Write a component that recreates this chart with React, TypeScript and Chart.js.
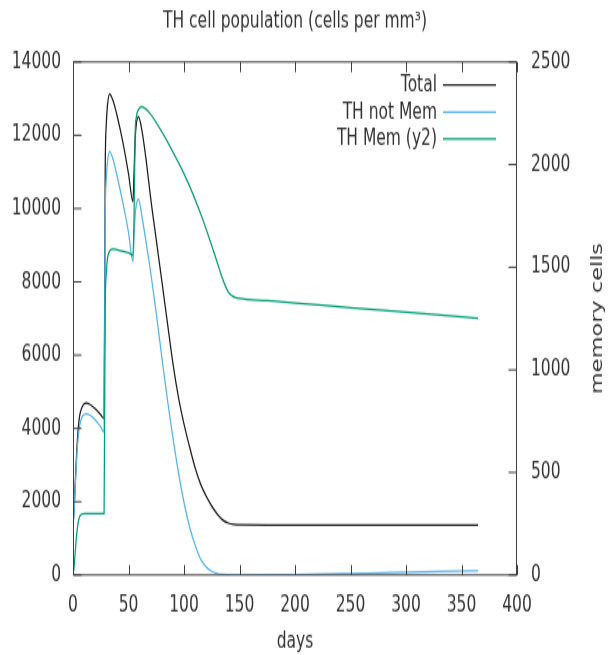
import React, { useEffect, useRef } from 'react';
import { Chart, registerables } from 'chart.js';

Chart.register(...registerables);

// ---------- data ----------
const days = [0, 1, 2, 3, 4, 5, 6, 8, 10, 12, 15, 20, 25, 27, 28,
  29, 30, 31, 33, 36, 40, 45, 50,
  54, 55, 56, 57, 59, 62, 66, 70,
  75, 80, 85, 90, 95, 100, 105, 110,
  115, 120, 125, 130, 135, 140, 145, 150,
  175, 200, 250, 300, 365];

const totalCells = [1340, 1800, 2500, 3150, 3700, 4100, 4350, 4570, 4670, 4690, 4660, 4540, 4370, 4290, 4270,
  11000, 12300, 12800, 13130, 12950, 12500, 11800, 10950,
  10190, 11000, 11900, 12300, 12500, 12150, 11300, 10280,
  9150, 8030, 6900, 5780, 4850, 4120, 3500, 2930,
  2480, 2150, 1880, 1665, 1500, 1415, 1380, 1368,
  1365, 1365, 1365, 1365, 1365];

const notMemCells = [1340, 1750, 2400, 3000, 3500, 3850, 4080, 4300, 4380, 4400, 4370, 4230, 4040, 3930, 3910,
  9700, 10800, 11250, 11550, 11350, 10850, 10150, 9350,
  8550, 9200, 9800, 10100, 10260, 9800, 9050, 8250,
  7150, 5950, 4800, 3750, 2800, 1980, 1320, 820,
  430, 220, 100, 40, 12, 3, 0, 0,
  2, 10, 40, 75, 115];

const memCells = [0, 40, 110, 180, 230, 265, 285, 297, 300, 300, 300, 300, 300, 300, 300,
  1300, 1470, 1540, 1580, 1589, 1585, 1578, 1570,
  1559, 1750, 2150, 2230, 2268, 2282, 2270, 2245,
  2205, 2160, 2112, 2062, 2010, 1955, 1895, 1830,
  1760, 1685, 1605, 1522, 1440, 1378, 1355, 1348,
  1337, 1326, 1303, 1281, 1252];

const seriesLabels = ['Total', 'TH not Mem', 'TH Mem (y2)'];
const seriesColors = ['#1c1c1c', '#56b4e9', '#009e73'];

const xTicks = { min: 0, max: 400, step: 50 };
const yTicks = { min: 0, max: 14000, step: 2000 };
const y2Ticks = { min: 0, max: 2500, step: 500 };

const chartTitle = 'TH cell population (cells per mm\u00b3)';
const xTitle = 'days';
const y2Title = 'memory cells';

// ---------- layout ----------
const W = 609;
const H = 655;
const LH = 452; // logical canvas height, stretched to H by CSS
const SY = H / LH;
const TOP = 62 / SY;
const BOTTOM = 575 / SY;
const FONT = 'DejaVu Sans';
const FS = 15.5;
const TXT = '#333333';
const AXIS = '#404040';

const decor = {
  id: 'decor',
  afterDraw(chart: any) {
    const { ctx, chartArea: a, scales } = chart;
    ctx.save();
    ctx.strokeStyle = AXIS;
    ctx.lineWidth = 1;
    const line = (x1: number, y1: number, x2: number, y2: number) => {
      ctx.beginPath();
      ctx.moveTo(x1, y1);
      ctx.lineTo(x2, y2);
      ctx.stroke();
    };
    const L = Math.round(a.left) + 0.5;
    const R = Math.round(a.right) - 0.5;
    const T = a.top;
    const B = a.bottom;
    ctx.strokeRect(L, T, R - L, B - T);
    const xs = scales.x;
    xs.ticks.forEach((t: any) => {
      const px = Math.round(xs.getPixelForValue(t.value)) + 0.5;
      line(px, B, px, B - 7);
      line(px, T, px, T + 7);
    });
    const ys = scales.y;
    ys.ticks.forEach((t: any) => {
      const py = ys.getPixelForValue(t.value);
      line(L, py, L + 8, py);
    });
    const y2s = scales.y2;
    y2s.ticks.forEach((t: any) => {
      const py = y2s.getPixelForValue(t.value);
      line(R, py, R - 8, py);
    });

    // legend (key) in the top right corner
    ctx.font = `${FS}px "${FONT}"`;
    ctx.textBaseline = 'middle';
    ctx.textAlign = 'right';
    chart.data.datasets.forEach((ds: any, i: number) => {
      const y = 59.2 + i * 18.6;
      ctx.fillStyle = TXT;
      ctx.fillText(ds.label, 437, y);
      ctx.strokeStyle = ds.borderColor;
      ctx.lineWidth = 1.3;
      line(443, y - 0.5, 496, y - 0.5);
    });

    // right axis title, reading upwards
    ctx.translate(598, (a.top + a.bottom) / 2);
    ctx.rotate(-Math.PI / 2);
    ctx.textAlign = 'center';
    ctx.fillStyle = TXT;
    ctx.fillText(y2Title, 0, 0);
    ctx.restore();
  },
};

export default function App() {
  const ref = useRef<HTMLCanvasElement>(null);
  useEffect(() => {
    const canvas = ref.current!;
    const mk = (vals: number[]) => days.map((d, i) => ({ x: d, y: vals[i] }));
    const values = [totalCells, notMemCells, memCells];
    const axisIds = ['y', 'y', 'y2'];
    const fnt = { family: FONT, size: FS, weight: 'normal' as const };
    const chart = new Chart(canvas, {
      type: 'line',
      data: {
        datasets: values.map((v, i) => ({
          label: seriesLabels[i],
          data: mk(v),
          borderColor: seriesColors[i],
          backgroundColor: seriesColors[i],
          yAxisID: axisIds[i],
          order: 3 - i,
        })),
      },
      options: {
        animation: false,
        responsive: false,
        maintainAspectRatio: false,
        devicePixelRatio: 1,
        layout: { padding: 0 },
        elements: {
          point: { radius: 0 },
          line: { borderWidth: 1.25, cubicInterpolationMode: 'monotone', fill: false },
        },
        plugins: {
          legend: { display: false },
          tooltip: { enabled: false },
          title: {
            display: true,
            text: chartTitle,
            color: TXT,
            font: fnt,
            fullSize: false,
            padding: { top: 6, bottom: TOP - 6 - FS * 1.2 },
          },
        },
        scales: {
          x: {
            type: 'linear',
            position: 'bottom',
            min: xTicks.min,
            max: xTicks.max,
            grid: { display: false, drawTicks: false },
            border: { display: false },
            ticks: { stepSize: xTicks.step, padding: 12, color: TXT, font: fnt, maxRotation: 0, callback: (v: any) => String(v) },
            title: { display: true, text: xTitle, color: TXT, font: fnt, padding: { top: 0, bottom: 0 } },
            afterFit: (s: any) => { s.height = LH - BOTTOM; },
          },
          y: {
            type: 'linear',
            position: 'left',
            min: yTicks.min,
            max: yTicks.max,
            grid: { display: false, drawTicks: false },
            border: { display: false },
            ticks: { stepSize: yTicks.step, padding: 12, color: TXT, font: fnt, callback: (v: any) => String(v) },
            afterFit: (s: any) => { s.width = 73; },
          },
          y2: {
            type: 'linear',
            position: 'right',
            min: y2Ticks.min,
            max: y2Ticks.max,
            grid: { display: false, drawTicks: false },
            border: { display: false },
            ticks: { stepSize: y2Ticks.step, padding: 14, color: TXT, font: fnt, callback: (v: any) => String(v) },
            afterFit: (s: any) => { s.width = 92; },
          },
        },
      } as any,
      plugins: [decor],
    });
    return () => chart.destroy();
  }, []);
  return (
    <div style={{ position: 'absolute', left: 0, top: 0, width: W, height: H, background: '#fff' }}>
      <canvas ref={ref} width={W} height={LH} style={{ display: 'block', width: `${W}px`, height: `${H}px` }} />
    </div>
  );
}
